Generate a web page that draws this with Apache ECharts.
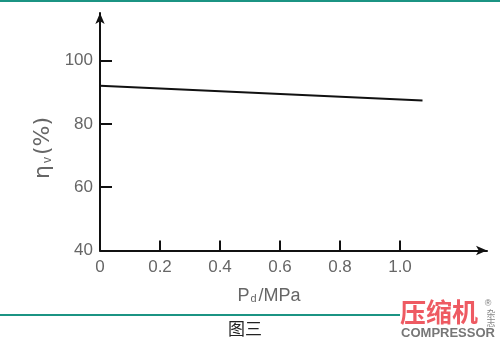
<!DOCTYPE html>
<html><head><meta charset="utf-8">
<script src="https://cdn.jsdelivr.net/npm/echarts@6/dist/echarts.min.js"></script>
<style>html,body{margin:0;padding:0;background:#fff}#c{width:500px;height:340px}</style>
</head><body><div id="c"></div>
<script>
var pd = [0, 1.075];
var etaV = [92.0, 87.4];
var xTicks = [0, 0.2, 0.4, 0.6, 0.8, 1.0];
var yTicks = [40, 60, 80, 100];

var chart = echarts.init(document.getElementById('c'), null, {renderer: 'canvas'});
var font = 'Liberation Sans';
chart.setOption({
  animation: false,
  backgroundColor: '#fff',
  grid: {left: 100, top: 13, right: 13, bottom: 89.5, containLabel: false},
  xAxis: {
    type: 'value', min: 0, max: 1.29,
    axisLine: {show: true, lineStyle: {color: '#111', width: 2}, symbol: ['none', 'arrow'], symbolSize: [7, 11]},
    axisTick: {show: true, inside: true, length: 10, lineStyle: {color: '#111', width: 2}, customValues: xTicks.slice(1)},
    axisLabel: {customValues: xTicks, color: '#666', fontFamily: font, fontSize: 17, margin: 8,
      formatter: function (v) { return v === 0 ? '0' : v.toFixed(1); }},
    splitLine: {show: false}
  },
  yAxis: {
    type: 'value', min: 40, max: 115,
    axisLine: {show: true, lineStyle: {color: '#111', width: 2}, symbol: ['none', 'arrow'], symbolSize: [7, 11]},
    axisTick: {show: true, inside: true, length: 12, lineStyle: {color: '#111', width: 2}, customValues: yTicks.slice(1)},
    axisLabel: {customValues: yTicks, color: '#666', fontFamily: font, fontSize: 17, margin: 7},
    splitLine: {show: false}
  },
  series: [{
    type: 'line', data: pd.map(function (x, i) { return [x, etaV[i]]; }),
    symbol: 'none', lineStyle: {color: '#111', width: 2}
  }],
  graphic: [
    {type: 'rect', shape: {x: 0, y: 0, width: 500, height: 2}, style: {fill: '#1b9483'}},
    {type: 'rect', shape: {x: 0, y: 314, width: 500, height: 2}, style: {fill: '#1b9483'}},
    {type: 'text', x: 43, y: 148, rotation: Math.PI / 2,
      style: {text: '{a|η}{b|v}{a|(%)}', align: 'center', verticalAlign: 'middle',
        rich: {a: {fontSize: 22, fill: '#666', fontFamily: 'DejaVu Sans'}, b: {fontSize: 12, fill: '#666', fontFamily: font, padding: [9, 2, 0, 2]}}}},
    {type: 'text', x: 269, y: 296, rotation: 0,
      style: {text: '{a|P}{b|d}{a|/MPa}', align: 'center', verticalAlign: 'middle',
        rich: {a: {fontSize: 18, fill: '#666', fontFamily: font}, b: {fontSize: 11, fill: '#666', fontFamily: font, padding: [5, 2, 0, 1]}}}},
    {type: 'text', x: 245, y: 329, rotation: 0,
      style: {text: '图三', align: 'center', verticalAlign: 'middle', fontSize: 17, fill: '#222', fontFamily: 'Noto Sans CJK SC'}},
    {type: 'rect', shape: {x: 400, y: 298, width: 100, height: 42}, style: {fill: '#fff'}},
    {type: 'text', x: 439, y: 312, rotation: 0,
      style: {text: '压缩机', align: 'center', verticalAlign: 'middle', fontSize: 26, fontWeight: 'bold', fill: '#ee5a62', fontFamily: 'Noto Sans CJK SC'}},
    {type: 'text', x: 488, y: 304, rotation: 0,
      style: {text: '®', align: 'center', verticalAlign: 'middle', fontSize: 9, fill: '#777', fontFamily: font}},
    {type: 'text', x: 491, y: 314, rotation: 0,
      style: {text: '杂', align: 'center', verticalAlign: 'middle', fontSize: 9, fill: '#888', fontFamily: 'Noto Sans CJK SC'}},
    {type: 'text', x: 491, y: 323, rotation: 0,
      style: {text: '志', align: 'center', verticalAlign: 'middle', fontSize: 9, fill: '#888', fontFamily: 'Noto Sans CJK SC'}},
    {type: 'text', x: 448, y: 333, rotation: 0,
      style: {text: 'COMPRESSOR', align: 'center', verticalAlign: 'middle', fontSize: 13, fontWeight: 'bold', fill: '#777', fontFamily: font}}
  ]
});
</script></body></html>
